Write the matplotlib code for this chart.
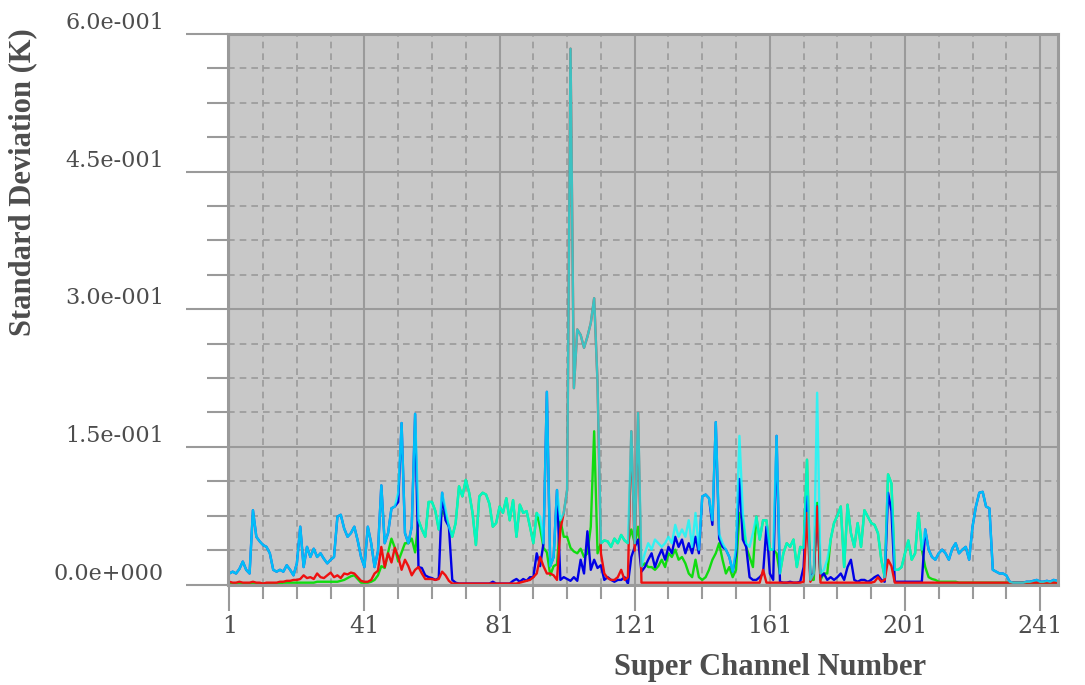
import numpy as np
import matplotlib.pyplot as plt
from matplotlib.ticker import FixedLocator, FixedFormatter

# super channel numbers 1..246
channels = list(range(1, 247))

# standard deviation per super channel (K)
cyan_sd = [
    0.012, 0.014, 0.012, 0.017, 0.025, 0.016, 0.012, 0.081, 0.052, 0.047,  # 1-10
    0.043, 0.041, 0.034, 0.016, 0.014, 0.016, 0.014, 0.021, 0.016, 0.010,  # 11-20
    0.023, 0.063, 0.019, 0.041, 0.030, 0.039, 0.030, 0.034, 0.028, 0.023,  # 21-30
    0.027, 0.030, 0.074, 0.076, 0.061, 0.052, 0.056, 0.063, 0.048, 0.030,  # 31-40
    0.019, 0.063, 0.045, 0.019, 0.036, 0.108, 0.045, 0.056, 0.083, 0.085,  # 41-50
    0.100, 0.176, 0.056, 0.045, 0.063, 0.186, 0.070, 0.060, 0.052, 0.090,  # 51-60
    0.090, 0.080, 0.060, 0.100, 0.082, 0.063, 0.052, 0.067, 0.107, 0.096,  # 61-70
    0.114, 0.100, 0.078, 0.043, 0.096, 0.100, 0.098, 0.088, 0.063, 0.067,  # 71-80
    0.085, 0.078, 0.094, 0.070, 0.092, 0.052, 0.087, 0.078, 0.080, 0.063,  # 81-90
    0.045, 0.078, 0.074, 0.045, 0.210, 0.020, 0.030, 0.103, 0.070, 0.078,  # 91-100
    0.103, 0.584, 0.214, 0.278, 0.272, 0.258, 0.270, 0.285, 0.312, 0.220,  # 101-110
    0.045, 0.048, 0.047, 0.041, 0.050, 0.045, 0.054, 0.048, 0.045, 0.167,  # 111-120
    0.045, 0.187, 0.020, 0.034, 0.045, 0.038, 0.049, 0.045, 0.041, 0.045,  # 121-130
    0.052, 0.045, 0.065, 0.052, 0.060, 0.052, 0.070, 0.041, 0.078, 0.038,  # 131-140
    0.096, 0.098, 0.094, 0.070, 0.177, 0.055, 0.045, 0.038, 0.030, 0.014,  # 141-150
    0.041, 0.162, 0.078, 0.045, 0.041, 0.056, 0.074, 0.049, 0.070, 0.070,  # 151-160
    0.038, 0.038, 0.162, 0.012, 0.034, 0.045, 0.041, 0.049, 0.019, 0.041,  # 161-170
    0.040, 0.136, 0.005, 0.012, 0.209, 0.012, 0.016, 0.027, 0.049, 0.067,  # 171-180
    0.075, 0.085, 0.019, 0.087, 0.056, 0.041, 0.067, 0.041, 0.081, 0.074,  # 181-190
    0.067, 0.065, 0.056, 0.027, 0.008, 0.120, 0.110, 0.016, 0.016, 0.019,  # 191-200
    0.034, 0.048, 0.027, 0.034, 0.078, 0.038, 0.060, 0.038, 0.030, 0.027,  # 201-210
    0.034, 0.038, 0.034, 0.027, 0.039, 0.045, 0.034, 0.038, 0.041, 0.027,  # 211-220
    0.063, 0.085, 0.100, 0.101, 0.085, 0.083, 0.016, 0.014, 0.012, 0.012,  # 221-230
    0.010, 0.003, 0.002, 0.002, 0.002, 0.002, 0.003, 0.003, 0.004, 0.005,  # 231-240
    0.003, 0.003, 0.004, 0.003, 0.005, 0.004,                              # 241-246
]

blue_sd = [
    0.012, 0.014, 0.012, 0.017, 0.025, 0.016, 0.012, 0.081, 0.052, 0.047,
    0.043, 0.041, 0.034, 0.016, 0.014, 0.016, 0.014, 0.021, 0.016, 0.010,
    0.023, 0.063, 0.019, 0.041, 0.030, 0.039, 0.030, 0.034, 0.028, 0.023,
    0.027, 0.030, 0.074, 0.076, 0.061, 0.052, 0.056, 0.063, 0.048, 0.030,
    0.019, 0.063, 0.045, 0.019, 0.036, 0.108, 0.045, 0.056, 0.083, 0.085,
    0.090, 0.176, 0.056, 0.045, 0.063, 0.186, 0.019, 0.018, 0.010, 0.008,
    0.007, 0.005, 0.007, 0.100, 0.070, 0.063, 0.005, 0.002, 0.001, 0.001,
    0.001, 0.001, 0.001, 0.001, 0.001, 0.001, 0.001, 0.001, 0.003, 0.001,
    0.001, 0.001, 0.001, 0.001, 0.004, 0.006, 0.003, 0.006, 0.004, 0.008,
    0.008, 0.034, 0.020, 0.045, 0.210, 0.020, 0.030, 0.103, 0.005, 0.008,
    0.006, 0.004, 0.008, 0.004, 0.027, 0.012, 0.058, 0.016, 0.027, 0.018,
    0.021, 0.005, 0.008, 0.005, 0.003, 0.005, 0.005, 0.008, 0.001, 0.030,
    0.041, 0.049, 0.014, 0.019, 0.027, 0.034, 0.019, 0.030, 0.038, 0.027,
    0.041, 0.034, 0.052, 0.041, 0.049, 0.034, 0.045, 0.034, 0.052, 0.034,
    0.096, 0.098, 0.094, 0.065, 0.177, 0.050, 0.041, 0.038, 0.030, 0.014,
    0.034, 0.115, 0.049, 0.041, 0.008, 0.005, 0.005, 0.008, 0.012, 0.063,
    0.012, 0.005, 0.162, 0.003, 0.002, 0.002, 0.003, 0.002, 0.002, 0.003,
    0.019, 0.096, 0.008, 0.012, 0.085, 0.008, 0.012, 0.005, 0.008, 0.005,
    0.008, 0.012, 0.005, 0.019, 0.027, 0.005, 0.003, 0.005, 0.005, 0.003,
    0.005, 0.008, 0.010, 0.005, 0.003, 0.100, 0.080, 0.003, 0.003, 0.003,
    0.003, 0.003, 0.003, 0.003, 0.003, 0.003, 0.060, 0.038, 0.030, 0.027,
    0.034, 0.038, 0.034, 0.027, 0.039, 0.045, 0.034, 0.038, 0.041, 0.027,
    0.063, 0.085, 0.100, 0.101, 0.085, 0.083, 0.016, 0.014, 0.012, 0.012,
    0.010, 0.003, 0.002, 0.002, 0.002, 0.002, 0.003, 0.003, 0.004, 0.005,
    0.003, 0.003, 0.004, 0.003, 0.005, 0.004,
]

green_sd = [
    0.001, 0.001, 0.001, 0.001, 0.001, 0.001, 0.001, 0.001, 0.001, 0.001,
    0.001, 0.001, 0.001, 0.001, 0.001, 0.001, 0.002, 0.002, 0.002, 0.002,
    0.002, 0.002, 0.002, 0.002, 0.002, 0.002, 0.003, 0.003, 0.003, 0.003,
    0.003, 0.003, 0.003, 0.004, 0.005, 0.007, 0.009, 0.010, 0.006, 0.002,
    0.002, 0.002, 0.003, 0.005, 0.010, 0.020, 0.018, 0.035, 0.050, 0.040,
    0.025, 0.035, 0.045, 0.045, 0.050, 0.035, 0.070, 0.060, 0.052, 0.090,
    0.090, 0.080, 0.060, 0.080, 0.075, 0.063, 0.052, 0.067, 0.107, 0.096,
    0.114, 0.100, 0.078, 0.043, 0.096, 0.100, 0.098, 0.088, 0.063, 0.067,
    0.085, 0.078, 0.094, 0.070, 0.092, 0.052, 0.087, 0.078, 0.080, 0.063,
    0.045, 0.078, 0.062, 0.040, 0.035, 0.010, 0.020, 0.022, 0.070, 0.052,
    0.052, 0.040, 0.036, 0.034, 0.039, 0.030, 0.034, 0.063, 0.167, 0.034,
    0.045, 0.048, 0.047, 0.041, 0.050, 0.045, 0.054, 0.048, 0.045, 0.060,
    0.045, 0.063, 0.020, 0.023, 0.019, 0.019, 0.016, 0.020, 0.027, 0.019,
    0.034, 0.030, 0.038, 0.027, 0.030, 0.023, 0.012, 0.008, 0.027, 0.008,
    0.005, 0.008, 0.016, 0.027, 0.034, 0.045, 0.027, 0.012, 0.019, 0.008,
    0.016, 0.078, 0.070, 0.041, 0.030, 0.019, 0.074, 0.049, 0.070, 0.070,
    0.038, 0.038, 0.034, 0.012, 0.034, 0.045, 0.041, 0.049, 0.019, 0.041,
    0.040, 0.136, 0.005, 0.005, 0.089, 0.005, 0.012, 0.012, 0.049, 0.067,
    0.075, 0.085, 0.019, 0.087, 0.056, 0.041, 0.067, 0.041, 0.081, 0.074,
    0.067, 0.065, 0.056, 0.027, 0.008, 0.120, 0.110, 0.016, 0.016, 0.019,
    0.034, 0.048, 0.027, 0.034, 0.078, 0.038, 0.019, 0.008, 0.006, 0.005,
    0.003, 0.003, 0.003, 0.003, 0.003, 0.003, 0.002, 0.002, 0.002, 0.002,
    0.002, 0.002, 0.002, 0.002, 0.002, 0.002, 0.002, 0.002, 0.002, 0.002,
    0.002, 0.002, 0.002, 0.002, 0.002, 0.002, 0.002, 0.002, 0.002, 0.002,
    0.002, 0.002, 0.002, 0.002, 0.002, 0.002,
]

red_sd = [
    0.003, 0.002, 0.002, 0.003, 0.002, 0.002, 0.002, 0.003, 0.002, 0.002,
    0.001, 0.002, 0.002, 0.002, 0.002, 0.003, 0.003, 0.004, 0.004, 0.005,
    0.005, 0.006, 0.010, 0.007, 0.008, 0.006, 0.012, 0.008, 0.007, 0.010,
    0.013, 0.008, 0.010, 0.007, 0.012, 0.011, 0.013, 0.012, 0.008, 0.004,
    0.003, 0.003, 0.005, 0.012, 0.015, 0.041, 0.019, 0.034, 0.024, 0.040,
    0.030, 0.016, 0.027, 0.020, 0.010, 0.016, 0.019, 0.012, 0.006, 0.006,
    0.006, 0.005, 0.006, 0.014, 0.010, 0.004, 0.001, 0.001, 0.001, 0.001,
    0.001, 0.001, 0.001, 0.001, 0.001, 0.001, 0.001, 0.001, 0.001, 0.001,
    0.001, 0.001, 0.001, 0.001, 0.001, 0.001, 0.002, 0.003, 0.004, 0.005,
    0.008, 0.012, 0.030, 0.020, 0.012, 0.012, 0.010, 0.005, 0.060, 0.078,
    0.103, 0.584, 0.214, 0.278, 0.272, 0.258, 0.270, 0.285, 0.312, 0.220,
    0.034, 0.012, 0.007, 0.005, 0.005, 0.008, 0.016, 0.005, 0.008, 0.167,
    0.037, 0.187, 0.002, 0.002, 0.002, 0.002, 0.002, 0.002, 0.002, 0.002,
    0.002, 0.002, 0.002, 0.002, 0.002, 0.002, 0.002, 0.002, 0.002, 0.002,
    0.002, 0.002, 0.002, 0.002, 0.002, 0.002, 0.002, 0.002, 0.002, 0.002,
    0.002, 0.002, 0.002, 0.002, 0.002, 0.002, 0.002, 0.002, 0.016, 0.002,
    0.002, 0.002, 0.002, 0.002, 0.002, 0.002, 0.002, 0.002, 0.002, 0.002,
    0.003, 0.078, 0.003, 0.012, 0.085, 0.002, 0.002, 0.002, 0.002, 0.002,
    0.002, 0.002, 0.002, 0.002, 0.002, 0.002, 0.002, 0.002, 0.002, 0.002,
    0.002, 0.003, 0.008, 0.003, 0.005, 0.027, 0.020, 0.002, 0.002, 0.002,
    0.002, 0.002, 0.002, 0.002, 0.002, 0.002, 0.002, 0.002, 0.002, 0.002,
    0.002, 0.002, 0.002, 0.002, 0.002, 0.002, 0.002, 0.002, 0.002, 0.002,
    0.002, 0.002, 0.002, 0.002, 0.002, 0.002, 0.002, 0.002, 0.002, 0.002,
    0.002, 0.002, 0.002, 0.002, 0.002, 0.002, 0.002, 0.002, 0.002, 0.002,
    0.002, 0.002, 0.002, 0.002, 0.002, 0.002,
]

x_ticks = [1, 41, 81, 121, 161, 201, 241]
x_tick_labels = ["1", "41", "81", "121", "161", "201", "241"]
y_ticks = [0.0, 0.15, 0.30, 0.45, 0.60]
y_tick_labels = ["0.0e+000", "1.5e-001", "3.0e-001", "4.5e-001", "6.0e-001"]

W, H = 1085, 685
frame = '#9a9a9a'
txt = '#4d4d4d'

fig = plt.figure(figsize=(W / 100, H / 100), dpi=100)
ax = fig.add_axes([228 / W, 1 - 584.5 / H, 830 / W, 550.5 / H])
ax.set_facecolor('#c8c8c8')

# series, cyan on top and slightly see-through like the original
ax.plot(channels, green_sd, color='#10dc10', lw=1.7, zorder=3)
ax.plot(channels, blue_sd, color='#0000e6', lw=1.7, zorder=4)
ax.plot(channels, red_sd, color='#ee1010', lw=1.7, zorder=5)
ax.plot(channels, cyan_sd, color='#00ffff', lw=1.7, alpha=0.75, zorder=6)

ax.set_xlim(0.615, 246.3)
ax.set_ylim(0, 0.6)

ax.xaxis.set_major_locator(FixedLocator(x_ticks))
ax.xaxis.set_major_formatter(FixedFormatter(x_tick_labels))
ax.xaxis.set_minor_locator(FixedLocator([c for c in range(1, 247, 10) if c not in x_ticks]))
ax.yaxis.set_major_locator(FixedLocator(y_ticks))
ax.yaxis.set_major_formatter(FixedFormatter(y_tick_labels))
ax.yaxis.set_minor_locator(FixedLocator([0.0375 * k for k in range(17) if k % 4]))

ax.grid(which='major', color=frame, lw=1.5, ls='-', zorder=1)
ax.grid(which='minor', color=frame, lw=1.2, ls=(0, (4, 3)), zorder=1)
ax.set_axisbelow(True)

for s in ax.spines.values():
    s.set_color(frame)
    s.set_linewidth(2.2)
    s.set_zorder(7)

ax.tick_params(axis='y', which='major', length=30, width=1.5, color=frame, pad=16,
               labelsize=16, labelcolor=txt)
ax.tick_params(axis='y', which='minor', length=15, width=1.5, color=frame)
ax.tick_params(axis='x', which='major', length=19, width=1.5, color=frame, pad=3,
               labelsize=17, labelcolor=txt)
ax.tick_params(axis='x', which='minor', length=10, width=1.5, color=frame)
for lab in ax.get_xticklabels() + ax.get_yticklabels():
    lab.set_family('DejaVu Serif')
plt.setp(ax.get_yticklabels(), va='bottom')

fig.text(770 / W, 1 - 668 / H, 'Super Channel Number', ha='center', va='center',
         family='Liberation Serif', weight='bold', size=22, color=txt)
fig.text(23 / W, 1 - 182 / H, 'Standard Deviation (K)', ha='center', va='center',
         rotation=90, family='Liberation Serif', weight='bold', size=22, color=txt)

fig.savefig('out.png', dpi=100)
